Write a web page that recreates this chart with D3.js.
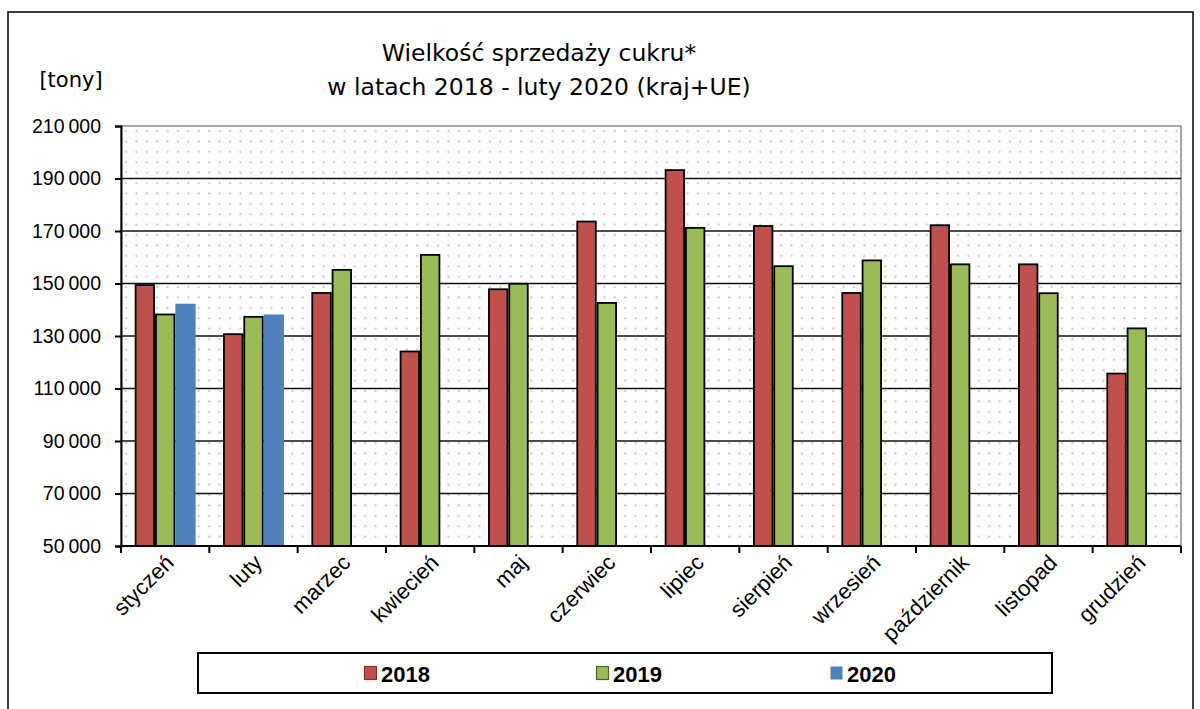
<!DOCTYPE html>
<html>
<head>
<meta charset="utf-8">
<script src="https://cdn.jsdelivr.net/npm/d3@7"></script>
<style>
  html, body { margin: 0; padding: 0; background: #fff; }
  svg { display: block; }
</style>
</head>
<body>
<svg id="chart" width="1200" height="709"></svg>
<script>
const categories = ["styczeń","luty","marzec","kwiecień","maj","czerwiec","lipiec","sierpień","wrzesień","październik","listopad","grudzień"];
const seriesNames = ["2018","2019","2020"];
const values2018 = [149400,130700,146400,124100,147800,173600,193200,171900,146400,172200,157300,115700];
const values2019 = [138200,137300,155200,160900,149900,142600,171200,156600,158800,157300,146300,132900];
const values2020 = [142300,138200,null,null,null,null,null,null,null,null,null,null];
const yTicks = [50000,70000,90000,110000,130000,150000,170000,190000,210000];
const titleLines = ["Wielkość sprzedaży cukru*","w latach 2018 - luty 2020 (kraj+UE)"];
const unitLabel = "[tony]";
const colors = {"2018":"#C0504D","2019":"#9BBB59","2020":"#4F81BD"};
const strokes = {"2018":"#000","2019":"#000","2020":"none"};
const legendStrokes = {"2018":"#8B2E2B","2019":"#4F6228","2020":"none"};

const seriesValues = {"2018":values2018,"2019":values2019,"2020":values2020};

const svg = d3.select("#chart");
const plot = {left:121, right:1181, top:126, bottom:546};

// outer border
svg.append("rect").attr("x",8).attr("y",12).attr("width",1185).attr("height",710)
  .attr("fill","#fff").attr("stroke","#000").attr("stroke-width",1.5);

// pattern
const defs = svg.append("defs");
const pat = defs.append("pattern").attr("id","dots").attr("patternUnits","userSpaceOnUse")
  .attr("width",10.4).attr("height",10.4).attr("x",plot.left).attr("y",plot.top);
pat.append("rect").attr("width",10.4).attr("height",10.4).attr("fill","#fff");
pat.append("circle").attr("cx",5).attr("cy",5).attr("r",1.1).attr("fill","#bdbdbd");

const x = d3.scaleBand().domain(categories).range([plot.left, plot.right]).paddingInner(0).paddingOuter(0);
const x1 = d3.scaleBand().domain(seriesNames).range([0, x.bandwidth()]).paddingInner(0).paddingOuter(0.675);
const y = d3.scaleLinear().domain([50000,210000]).range([plot.bottom, plot.top]);

// plot background
svg.append("rect").attr("x",plot.left).attr("y",plot.top)
  .attr("width",plot.right-plot.left).attr("height",plot.bottom-plot.top)
  .attr("fill","url(#dots)").attr("stroke","#8a8a8a").attr("stroke-width",1.5);

// gridlines
svg.append("g").selectAll("line").data(yTicks.filter(t => t>50000 && t<210000)).join("line")
  .attr("x1",plot.left).attr("x2",plot.right)
  .attr("y1",d=>y(d)).attr("y2",d=>y(d))
  .attr("stroke","#111").attr("stroke-width",1.5);

// bars
const groups = svg.append("g").selectAll("g").data(categories).join("g")
  .attr("transform", d => `translate(${x(d)},0)`);
groups.selectAll("rect").data((c,i) => seriesNames.map(s => ({s, v: seriesValues[s][i]})).filter(d => d.v != null))
  .join("rect")
  .attr("x", d => x1(d.s) + (strokes[d.s]==="none"?0:0.9))
  .attr("width", d => x1.bandwidth() - (strokes[d.s]==="none"?0:1.8))
  .attr("y", d => y(d.v))
  .attr("height", d => y(50000) - y(d.v))
  .attr("fill", d => colors[d.s])
  .attr("stroke", d => strokes[d.s])
  .attr("stroke-width", 1.8);

// y axis
const yAxis = d3.axisLeft(y).tickValues(yTicks).tickSize(6).tickPadding(14)
  .tickFormat(d => d3.format(",")(d).replace(/,/g, "\u2009"));
const gy = svg.append("g").attr("transform",`translate(${plot.left},0)`).call(yAxis);
gy.select(".domain").attr("stroke","#000").attr("stroke-width",2);
gy.selectAll(".tick line").attr("stroke","#000").attr("stroke-width",2);
gy.selectAll(".tick text").attr("font-family","'Liberation Sans', Arial, sans-serif")
  .attr("font-size",19.5).attr("fill","#000");

// x axis
const gx = svg.append("g").attr("transform",`translate(0,${plot.bottom})`);
gx.append("line").attr("x1",plot.left).attr("x2",plot.right).attr("stroke","#000").attr("stroke-width",2);
const boundaries = categories.map(c => x(c)).concat([plot.right]);
gx.selectAll("line.tk").data(boundaries).join("line").attr("class","tk")
  .attr("x1",d=>d).attr("x2",d=>d).attr("y1",0).attr("y2",7)
  .attr("stroke","#000").attr("stroke-width",2);
gx.selectAll("text").data(categories).join("text")
  .attr("transform", d => `translate(${x(d)+x.bandwidth()/2+10},${18}) rotate(-45)`)
  .attr("text-anchor","end")
  .attr("font-family","'Liberation Sans', Arial, sans-serif")
  .attr("font-size",22).attr("fill","#000")
  .text(d=>d);

// title
const title = svg.append("text").attr("text-anchor","middle")
  .attr("font-family","'Comic Sans MS','DejaVu Sans',sans-serif").attr("font-size",23.5).attr("fill","#000");
title.selectAll("tspan").data(titleLines).join("tspan")
  .attr("x",d => 539).attr("y",(d,i)=> i===0 ? 61 : 95).text(d=>d);

svg.append("text").attr("x",71).attr("y",87).attr("text-anchor","middle")
  .attr("font-family","'Comic Sans MS','DejaVu Sans',sans-serif").attr("font-size",21).attr("fill","#000")
  .text(unitLabel);

// legend
const legend = svg.append("g");
legend.append("rect").attr("x",198).attr("y",653).attr("width",854).attr("height",40)
  .attr("fill","#fff").attr("stroke","#000").attr("stroke-width",2);
const legendX = {"2018":364,"2019":596,"2020":830};
const li = legend.selectAll("g.li").data(seriesNames).join("g").attr("class","li")
  .attr("transform", d => `translate(${legendX[d]},666)`);
li.append("rect").attr("x",0.5).attr("y",0.5).attr("width",12).attr("height",13)
  .attr("fill",d=>colors[d]).attr("stroke",d=>legendStrokes[d]).attr("stroke-width",1.2);
li.append("text").attr("x",17).attr("y",15.5)
  .attr("font-family","'Liberation Sans', Arial, sans-serif").attr("font-weight","bold")
  .attr("font-size",22).attr("fill","#000").text(d=>d);
</script>
</body>
</html>
